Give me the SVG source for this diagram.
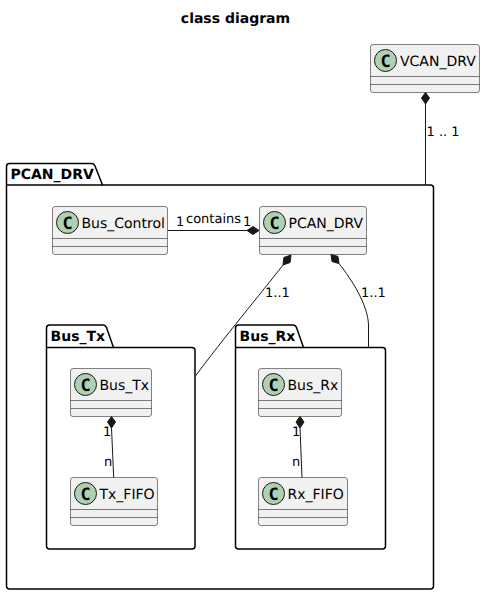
<svg xmlns="http://www.w3.org/2000/svg" width="485" height="595" viewBox="0 0 485 595">
<style>
text{font-family:"DejaVu Sans",sans-serif;fill:#000;text-rendering:geometricPrecision}
.t{font-size:14px}
.l{font-size:13px}
.p{font-size:14px;font-weight:bold}
.pk{fill:#fff;stroke:#000;stroke-width:1.5}
.b{fill:#f1f1f1;stroke:#181818;stroke-opacity:.6;stroke-width:.9}
.s{stroke:#181818;stroke-opacity:.55;stroke-width:1;fill:none}
.c{fill:#add1b2;stroke:#181818;stroke-width:1}
.ci{font-size:17px;font-weight:bold;text-anchor:middle;font-family:"DejaVu Sans Mono",monospace}
.e{stroke:#181818;stroke-width:1;fill:none}
.d{fill:#181818;stroke:#181818;stroke-width:1}
</style>
<text x="235.500" y="23" text-anchor="middle" style="font-size:14px;font-weight:bold">class diagram</text>
<g id="PCAN_DRV_pkg">
<path class="pk" d="M9.5 163.5H91.5Q94 163.5 95 166L102.5 185H430.5Q433.5 185 433.5 188V586Q433.5 589 430.5 589H9.5Q6.5 589 6.5 586V166.5Q6.5 163.5 9.5 163.5Z"/>
<path class="pk" d="M6.5 185H102.5"/>
<text class="p" x="10.5" y="178.500">PCAN_DRV</text>
</g>
<g id="Bus_Tx_pkg">
<path class="pk" d="M49.5 325H103Q105.5 325 106.5 327.5L113.5 347.5H192Q195 347.5 195 350.5V546Q195 549 192 549H49.5Q46.5 549 46.5 546V328Q46.5 325 49.5 325Z"/>
<path class="pk" d="M46.5 347.5H113.5"/>
<text class="p" x="50.5" y="340.500">Bus_Tx</text>
</g>
<g id="Bus_Rx_pkg">
<path class="pk" d="M238.5 325H293Q295.5 325 296.5 327.5L303.5 347.5H382.5Q385.5 347.5 385.5 350.5V546Q385.5 549 382.5 549H238.5Q235.5 549 235.5 546V328Q235.5 325 238.5 325Z"/>
<path class="pk" d="M235.5 347.5H303.5"/>
<text class="p" x="239.5" y="340.500">Bus_Rx</text>
</g>
<g id="VCAN_DRV">
<rect class="b" x="370.5" y="44.5" width="109" height="48" rx="2.5"/>
<path class="s" d="M370.5 76.5H479.5M370.5 84.5H479.5"/>
<circle class="c" cx="385.5" cy="60.5" r="11"/>
<text class="ci" x="385.5" y="66.500">C</text>
<text class="t" x="400" y="65.5">VCAN_DRV</text>
</g>
<g id="Bus_Control">
<rect class="b" x="52.5" y="206.5" width="115" height="48" rx="2.5"/>
<path class="s" d="M52.5 238.5H167.5M52.5 246.5H167.5"/>
<circle class="c" cx="67.5" cy="222.5" r="11"/>
<text class="ci" x="67.5" y="228.500">C</text>
<text class="t" x="81.5" y="227.5">Bus_Control</text>
</g>
<g id="PCAN_DRV">
<rect class="b" x="259.5" y="206.5" width="107" height="48" rx="2.5"/>
<path class="s" d="M259.5 238.5H366.5M259.5 246.5H366.5"/>
<circle class="c" cx="274.5" cy="222.5" r="11"/>
<text class="ci" x="274.5" y="228.500">C</text>
<text class="t" x="288.5" y="227.5">PCAN_DRV</text>
</g>
<g id="Bus_Tx">
<rect class="b" x="70.5" y="368.5" width="81" height="48" rx="2.5"/>
<path class="s" d="M70.5 400.5H151.5M70.5 408.5H151.5"/>
<circle class="c" cx="85.5" cy="384.5" r="11"/>
<text class="ci" x="85.5" y="390.500">C</text>
<text class="t" x="99.5" y="389.5">Bus_Tx</text>
</g>
<g id="Tx_FIFO">
<rect class="b" x="70.5" y="477.5" width="87" height="48" rx="2.5"/>
<path class="s" d="M70.5 509.5H157.5M70.5 517.5H157.5"/>
<circle class="c" cx="85.5" cy="493.5" r="11"/>
<text class="ci" x="85.5" y="499.500">C</text>
<text class="t" x="99.5" y="498.5">Tx_FIFO</text>
</g>
<g id="Bus_Rx">
<rect class="b" x="258.5" y="368.5" width="83" height="48" rx="2.5"/>
<path class="s" d="M258.5 400.5H341.5M258.5 408.5H341.5"/>
<circle class="c" cx="273.5" cy="384.5" r="11"/>
<text class="ci" x="273.5" y="390.500">C</text>
<text class="t" x="287.5" y="389.5">Bus_Rx</text>
</g>
<g id="Rx_FIFO">
<rect class="b" x="258.5" y="477.5" width="89" height="48" rx="2.5"/>
<path class="s" d="M258.5 509.5H347.5M258.5 517.5H347.5"/>
<circle class="c" cx="273.5" cy="493.5" r="11"/>
<text class="ci" x="273.5" y="499.500">C</text>
<text class="t" x="287.5" y="498.5">Rx_FIFO</text>
</g>
<g id="connectors">
<path class="e" d="M425.5 104V185"/>
<path class="d" d="M425.5 92.500L429.5 98L425.5 104L421.5 98Z"/>
<path class="e" d="M168 230.5H247"/>
<path class="d" d="M259 230.5L253 226.500L247 230.5L253 234.500Z"/>
<path class="e" d="M283 265C262 292 222 340 195.500 376"/>
<path class="d" d="M291 255L290.100 262.500L283 265L283.900 257.500Z"/>
<path class="e" d="M339 263.500C352 280 368 305 368.500 325V347.5"/>
<path class="d" d="M331 254.500L332 261.600L339 263.500L338 256.400Z"/>
<path class="e" d="M111.500 428L113.700 477.500"/>
<path class="d" d="M111.500 416.500L115.500 422L111.500 428L107.500 422Z"/>
<path class="e" d="M300 428L302 477.500"/>
<path class="d" d="M300 416.500L304 422L300 428L296 422Z"/>
</g>
<g id="labels">
<text class="l" x="426.500" y="135.500">1 .. 1</text>
<text class="l" x="176" y="226">1</text>
<text class="l" x="186" y="223">contains</text>
<text class="l" x="243" y="226">1</text>
<text class="l" x="265" y="297">1..1</text>
<text class="l" x="361" y="297">1..1</text>
<text class="l" x="103" y="436">1</text>
<text class="l" x="104" y="466">n</text>
<text class="l" x="292" y="436">1</text>
<text class="l" x="292" y="466">n</text>
</g>
</svg>
